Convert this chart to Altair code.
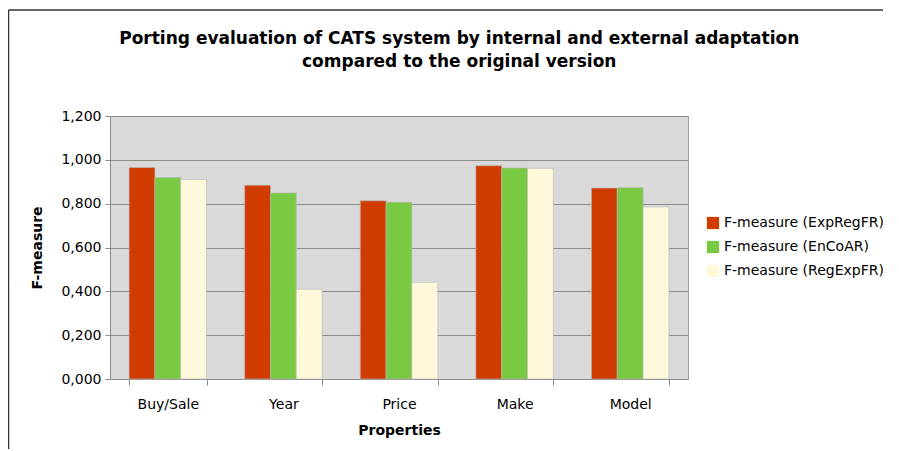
import altair as alt
import pandas as pd

categories = ["Buy/Sale", "Year", "Price", "Make", "Model"]
series = ["F-measure (ExpRegFR)", "F-measure (EnCoAR)", "F-measure (RegExpFR)"]
exp_reg_fr = [0.965, 0.884, 0.813, 0.973, 0.871]
encoar = [0.919, 0.849, 0.807, 0.963, 0.873]
reg_exp_fr = [0.910, 0.410, 0.441, 0.960, 0.785]
colors = ["#d03c00", "#7ac943", "#fff8da"]
y_ticks = [0, 0.2, 0.4, 0.6, 0.8, 1.0, 1.2]

rows = []
for s, vals in zip(series, [exp_reg_fr, encoar, reg_exp_fr]):
    for c, v in zip(categories, vals):
        rows.append({"Property": c, "Series": s, "Value": v})
df = pd.DataFrame(rows)

FONT = "DejaVu Sans"

x_enc = alt.X(
    "Property:N", sort=categories, title="Properties",
    scale=alt.Scale(paddingInner=0.33, paddingOuter=0.165),
    axis=alt.Axis(labelAngle=0, tickBand="extent", tickSize=6, labelPadding=12,
                  titlePadding=12, grid=False),
)
y_enc = alt.Y(
    "Value:Q", title="F-measure",
    scale=alt.Scale(domain=[0, 1.2], nice=False),
    axis=alt.Axis(values=y_ticks, tickSize=5, labelPadding=4, titlePadding=16,
                  labelExpr="replace(format(datum.value, '.3f'), '.', ',')"),
)
xoff = alt.XOffset("Series:N", sort=series)

bars = alt.Chart(df).mark_bar(stroke="#b8b8b8", strokeWidth=0.6).encode(
    x=x_enc, y=y_enc, xOffset=xoff,
    color=alt.Color(
        "Series:N", sort=series,
        scale=alt.Scale(domain=series, range=colors),
        legend=alt.Legend(title=None, orient="none", legendX=596, legendY=100,
                          symbolType="square", symbolSize=150, symbolStrokeWidth=0,
                          labelFontSize=14, labelFont=FONT, labelColor="black",
                          rowPadding=10, labelOffset=4, labelLimit=300),
    ),
)

frame_df = pd.DataFrame({"k": [0]})
frame_left = alt.Chart(frame_df).mark_rule(color="#333333", strokeWidth=1.5).encode(
    x=alt.value(-101.5), y=alt.value(-106), y2=alt.value(400)
)
frame_top = alt.Chart(frame_df).mark_rule(color="#333333", strokeWidth=1.5).encode(
    x=alt.value(-101.5), x2=alt.value(800), y=alt.value(-106)
)

chart = alt.layer(frame_left, frame_top, bars).properties(
    width=578, height=263,
    background="white",
    autosize=alt.AutoSizeParams(type="none"),
    padding={"left": 102, "top": 108, "right": 195, "bottom": 70},
    title=alt.TitleParams(
        ["Porting evaluation of CATS system by internal and external adaptation",
         "compared to the original version"],
        anchor="middle", frame="bounds", fontSize=17, font=FONT, fontWeight="bold",
        lineHeight=23, offset=-62, color="black",
    ),
).configure_view(
    fill="#d9d9d9", stroke="#a0a0a0"
).configure_axis(
    labelFont=FONT, labelFontSize=14, labelColor="black",
    titleFont=FONT, titleFontSize=14, titleFontWeight="bold", titleColor="black",
    gridColor="#8c8c8c", domainColor="#8c8c8c", tickColor="#8c8c8c",
)

chart.save("out.html", embed_options={"renderer": "svg", "actions": False})
